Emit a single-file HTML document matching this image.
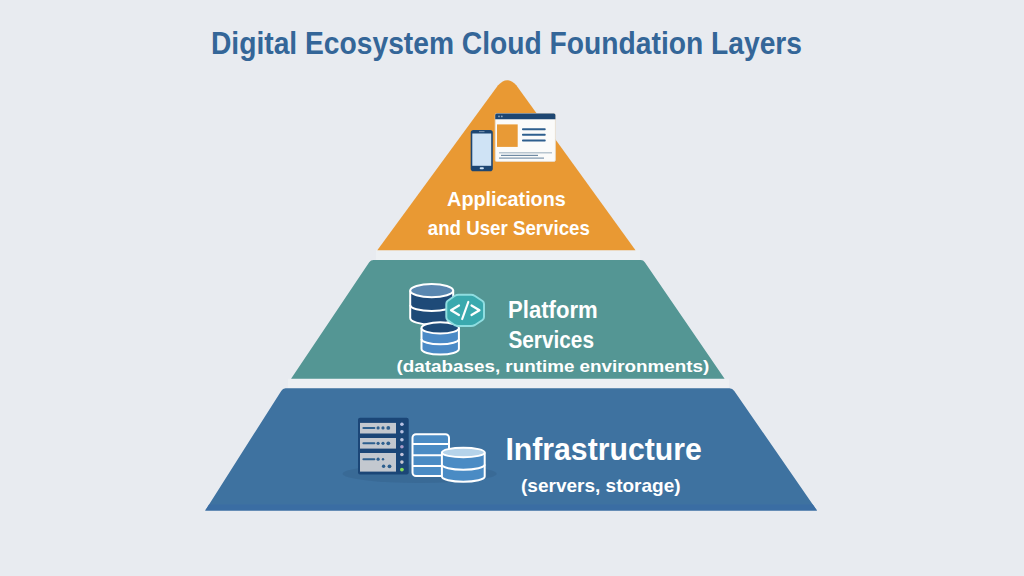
<!DOCTYPE html>
<html><head><meta charset="utf-8">
<style>
html,body{margin:0;padding:0;width:1024px;height:576px;overflow:hidden;background:#e8ebf0;}
svg{display:block;}
text{font-family:"Liberation Sans",sans-serif;font-weight:bold;}
</style></head>
<body>
<svg width="1024" height="576" viewBox="0 0 1024 576">
<rect width="1024" height="576" fill="#e8ebf0"/>
<text x="211" y="54" font-size="31.8" fill="#346698" textLength="591" lengthAdjust="spacingAndGlyphs">Digital Ecosystem Cloud Foundation Layers</text>
<rect x="376" y="250" width="264" height="10" fill="#edf0f3"/>
<rect x="288" y="378.8" width="441" height="9.5" fill="#edf0f3"/>
<path d="M377.3 250.2 L498.07 85.27 Q507.3 75 516.3 85.31 L635.5 250.2 Z" fill="#e99933"/>
<path d="M291.06 378.8 L369.2 262.3 Q370.8 260 373.5 260 L640.8 260 Q643.3 260 644.8 262.2 L724.6 378.8 Z" fill="#549694"/>
<path d="M205.2 510.6 L281.2 390.9 Q282.8 388.3 285.5 388.3 L729.5 388.3 Q732.5 388.3 734.3 390.9 L817 510.6 Z" fill="#3e72a0"/>
<path d="M209.1 504.5 L812.8 504.5 L817 510.6 L205.2 510.6 Z" fill="#3a6da3"/>
<g>
  <rect x="495.2" y="113.5" width="60.2" height="48" rx="1.5" fill="#fbfbfa" stroke="#e6dccd" stroke-width="0.8"/>
  <path d="M495.2 119.3 V115 Q495.2 113.5 496.7 113.5 H553.9 Q555.4 113.5 555.4 115 V119.3 Z" fill="#1d4672"/>
  <circle cx="499" cy="116.4" r="0.9" fill="#8ea6c0"/><circle cx="501.8" cy="116.4" r="0.9" fill="#8ea6c0"/>
  <rect x="497" y="124.4" width="20.7" height="22.5" fill="#e89a36"/>
  <rect x="522" y="128.3" width="23.7" height="2" rx="0.8" fill="#2e5f8e"/>
  <rect x="522" y="133.8" width="23.7" height="2" rx="0.8" fill="#2e5f8e"/>
  <rect x="522" y="139.5" width="23.7" height="2" rx="0.8" fill="#2e5f8e"/>
  <rect x="499" y="152.2" width="53" height="1.2" fill="#a9b8c6"/>
  <rect x="501" y="154.8" width="37" height="1.2" fill="#6f8aa3"/>
  <rect x="499" y="157.5" width="45" height="1.2" fill="#7d95ab"/>
  <rect x="470.7" y="129.9" width="22.1" height="41.3" rx="2.8" fill="#1d4672"/>
  <rect x="472.3" y="133.5" width="18.9" height="32.3" fill="#cfe3f5"/>
  <rect x="479.7" y="167.3" width="4.2" height="2" rx="1" fill="#cfe3f5"/>
  <rect x="479" y="131.3" width="5.5" height="0.8" fill="#8ea6c0"/>
</g>
<text x="447.1" y="206.4" font-size="21" fill="#fff" textLength="118.7" lengthAdjust="spacingAndGlyphs">Applications</text>
<text x="427.8" y="234.5" font-size="21" fill="#fff" textLength="162.1" lengthAdjust="spacingAndGlyphs">and User Services</text>
<g stroke="#ffffff" stroke-width="2">
  <path d="M410.2 290.6 V318 A21.5 6.6 0 0 0 453.2 318 V290.6" fill="#1e4a78"/>
  <path d="M410.2 305 A21.5 6 0 0 0 453.2 305" fill="none"/>
  <ellipse cx="431.7" cy="290.6" rx="21.5" ry="6.6" fill="#5a87b0"/>
  <path d="M421.5 327.9 V349 A18.7 5.6 0 0 0 458.9 349 V327.9" fill="#4a8ac6"/>
  <path d="M421.5 339 A18.7 5.3 0 0 0 458.9 339" fill="none"/>
  <ellipse cx="440.2" cy="327.9" rx="18.7" ry="5.6" fill="#1d4a78"/>
</g>
<path d="M458.5 294.7 H471 Q473 294.7 475 296 L482.5 301 Q484 302 484 304 V317 Q484 319 482.5 320 L475 325 Q473 326 471 326 H458.5 Q456.5 326 454.5 325 L447.5 320 Q446.3 319 446.3 317 V304 Q446.3 302 447.5 301 L454.5 296 Q456.5 294.7 458.5 294.7 Z" fill="#3aa9ae" stroke="#8fdde0" stroke-width="2"/>
<g stroke="#ffffff" stroke-width="2.2" fill="none" stroke-linecap="round" stroke-linejoin="round">
  <path d="M459 305.5 L451 310.2 L459 315"/>
  <path d="M468.3 302 L462.2 319"/>
  <path d="M471.5 305.5 L479.5 310.2 L471.5 315"/>
</g>
<text x="508" y="318.1" font-size="24.5" fill="#fff" textLength="89.7" lengthAdjust="spacingAndGlyphs">Platform</text>
<text x="508.4" y="348" font-size="24.5" fill="#fff" textLength="85.6" lengthAdjust="spacingAndGlyphs">Services</text>
<text x="396.6" y="372" font-size="17" fill="#fff" textLength="312.7" lengthAdjust="spacingAndGlyphs">(databases, runtime environments)</text>
<ellipse cx="419.6" cy="473.8" rx="77" ry="9.2" fill="#386893" opacity="0.8"/>
<rect x="358" y="417.7" width="50.7" height="56.8" rx="2" fill="#1b4677"/>
<rect x="360" y="422.9" width="36" height="10.6" fill="#c3c8cf"/>
<rect x="360" y="438" width="36" height="10.6" fill="#c3c8cf"/>
<rect x="360" y="453" width="36" height="18.6" fill="#c3c8cf"/>
<g fill="#2d5f8e">
 <rect x="362.4" y="426.9" width="13" height="2" rx="1"/>
 <circle cx="378.1" cy="427.9" r="1.6"/><circle cx="383" cy="427.9" r="1.6"/><circle cx="388.3" cy="427.9" r="1.9"/>
 <rect x="362.4" y="442.3" width="13" height="2" rx="1"/>
 <circle cx="378.1" cy="443.3" r="1.6"/><circle cx="383" cy="443.3" r="1.6"/><circle cx="388.3" cy="443.3" r="1.9"/>
 <rect x="362.4" y="458.2" width="13" height="2" rx="1"/>
 <circle cx="378.1" cy="459.2" r="1.6"/><circle cx="383" cy="459.2" r="1.2"/>
 <circle cx="383.6" cy="466.3" r="1.7"/><circle cx="389.5" cy="466.3" r="1.9"/>
</g>
<circle cx="401.9" cy="424.2" r="1.8" fill="#b9c2e4"/>
<circle cx="401.9" cy="431.8" r="1.8" fill="#b6bfe0"/>
<circle cx="401.9" cy="439.7" r="1.8" fill="#bcc6e2"/>
<circle cx="401.9" cy="446.8" r="1.8" fill="#a99ac8"/>
<circle cx="401.9" cy="454.5" r="1.8" fill="#c3c3da"/>
<circle cx="401.9" cy="462.1" r="1.8" fill="#c8c6d2"/>
<circle cx="401.9" cy="469.6" r="1.9" fill="#86dc5a"/>
<g stroke="#ffffff" stroke-width="2">
 <rect x="412.5" y="434.2" width="36.5" height="41.8" rx="3.5" fill="#4a8bc4"/>
 <path d="M412.5 444.1 H449 M412.5 455.3 H449 M412.5 466 H449" fill="none"/>
 <path d="M441.9 452.5 V476.5 A21.4 5.2 0 0 0 484.7 476.5 V452.5" fill="#4a8bc4"/>
 <path d="M441.9 464.5 A21.4 5.2 0 0 0 484.7 464.5" fill="none"/>
 <ellipse cx="463.3" cy="452.5" rx="21.4" ry="4.8" fill="#b5d3ea"/>
</g>
<text x="505.4" y="459.9" font-size="31" fill="#fff" textLength="196.4" lengthAdjust="spacingAndGlyphs">Infrastructure</text>
<text x="521" y="491.7" font-size="18.5" fill="#fff" textLength="159.6" lengthAdjust="spacingAndGlyphs">(servers, storage)</text>
</svg>
</body></html>
